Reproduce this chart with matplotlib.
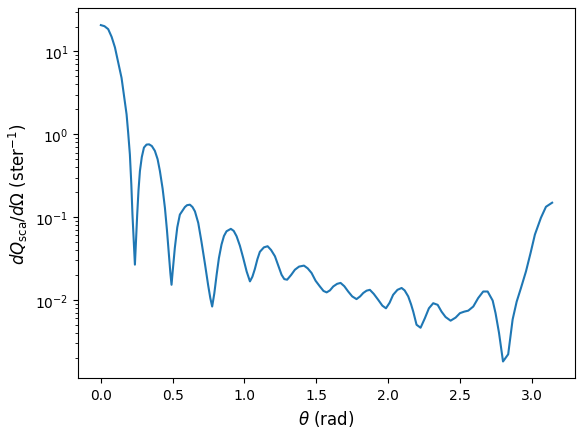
import matplotlib
matplotlib.use("Agg")
import matplotlib.pyplot as plt

theta = [0.000, 0.025, 0.051, 0.075, 0.098, 0.120, 0.144, 0.160, 0.179, 0.190,
         0.202, 0.212, 0.220, 0.228, 0.237, 0.245, 0.253, 0.262, 0.272, 0.285,
         0.300, 0.318, 0.336, 0.355, 0.376, 0.395, 0.411, 0.430, 0.446, 0.460,
         0.474, 0.484, 0.492, 0.500, 0.515, 0.532, 0.550, 0.585, 0.600, 0.620,
         0.638, 0.655, 0.678, 0.700, 0.725, 0.747, 0.762, 0.775, 0.790, 0.806,
         0.822, 0.840, 0.857, 0.875, 0.905, 0.925, 0.945, 0.968, 0.991, 1.015,
         1.038, 1.055, 1.072, 1.090, 1.107, 1.135, 1.161, 1.185, 1.212, 1.235,
         1.258, 1.277, 1.297, 1.325, 1.351, 1.380, 1.414, 1.440, 1.467, 1.495,
         1.525, 1.550, 1.572, 1.595, 1.618, 1.645, 1.669, 1.695, 1.722, 1.750,
         1.780, 1.805, 1.827, 1.850, 1.873, 1.900, 1.931, 1.960, 1.985, 2.010,
         2.035, 2.065, 2.094, 2.115, 2.140, 2.160, 2.175, 2.198, 2.226, 2.256,
         2.284, 2.314, 2.345, 2.372, 2.400, 2.435, 2.470, 2.500, 2.530, 2.558,
         2.593, 2.627, 2.662, 2.693, 2.728, 2.748, 2.772, 2.800, 2.836, 2.867,
         2.895, 2.925, 2.960, 2.992, 3.022, 3.064, 3.099, 3.142]

dq = [20.8, 20.2, 18.6, 15.0, 11.2, 7.5, 4.8, 3.0, 1.74, 1.05,
      0.57, 0.25, 0.107, 0.055, 0.0266, 0.055, 0.107, 0.21, 0.36, 0.53,
      0.69, 0.75, 0.755, 0.72, 0.63, 0.50, 0.36, 0.22, 0.129, 0.070,
      0.0352, 0.021, 0.0152, 0.022, 0.0424, 0.075, 0.107, 0.132, 0.139, 0.141,
      0.132, 0.117, 0.085, 0.0509, 0.027, 0.0150, 0.0105, 0.0083, 0.0120, 0.0201,
      0.032, 0.0465, 0.059, 0.0673, 0.072, 0.068, 0.0586, 0.045, 0.0321, 0.022,
      0.0167, 0.019, 0.0235, 0.031, 0.038, 0.043, 0.0444, 0.040, 0.0336, 0.026,
      0.0201, 0.0178, 0.0175, 0.020, 0.0231, 0.0252, 0.0259, 0.024, 0.0211, 0.017,
      0.0145, 0.0128, 0.0123, 0.0130, 0.0145, 0.0156, 0.0160, 0.0146, 0.0126, 0.0110,
      0.0102, 0.0110, 0.0121, 0.0129, 0.0132, 0.0118, 0.0100, 0.0085, 0.0079, 0.0092,
      0.0115, 0.0132, 0.0139, 0.0130, 0.0110, 0.0088, 0.0072, 0.0050, 0.0046, 0.0060,
      0.0079, 0.0091, 0.0087, 0.0072, 0.0062, 0.0056, 0.0061, 0.0069, 0.0072, 0.0074,
      0.0083, 0.0105, 0.0126, 0.0126, 0.0098, 0.0069, 0.0040, 0.0018, 0.0022, 0.0058,
      0.0095, 0.0139, 0.0221, 0.0369, 0.0614, 0.098, 0.133, 0.149]

fig = plt.figure(figsize=(5.84, 4.35), dpi=100)
ax = fig.add_axes([78.3/584, 1-379.3/435, 496.4/584, 370/435])
ax.plot(theta, dq)
ax.set_yscale('log')
ax.set_xlabel(r'$\theta$ (rad)', fontsize=12)
ax.set_ylabel(r'$dQ_{\rm sca}/d\Omega$ (ster$^{-1}$)', fontsize=12)
fig.savefig('out.png', dpi=100)
